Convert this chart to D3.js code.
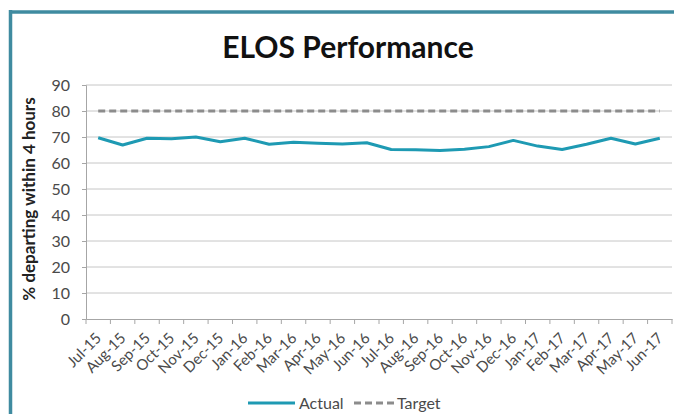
<!DOCTYPE html>
<html>
<head>
<meta charset="utf-8">
<script src="https://cdn.jsdelivr.net/npm/d3@7"></script>
<style>
  html, body { margin: 0; padding: 0; background: #ffffff; overflow: hidden; }
  svg { display: block; }
</style>
</head>
<body>
<svg id="chart" width="674" height="414"></svg>
<script>
// Monthly ELOS performance, Jul-15 to Jun-17
const months = ["Jul-15","Aug-15","Sep-15","Oct-15","Nov-15","Dec-15","Jan-16","Feb-16","Mar-16","Apr-16","May-16","Jun-16",
                "Jul-16","Aug-16","Sep-16","Oct-16","Nov-16","Dec-16","Jan-17","Feb-17","Mar-17","Apr-17","May-17","Jun-17"];
const actual = [69.7, 66.9, 69.5, 69.3, 70.0, 68.2, 69.5, 67.2, 68.0, 67.6, 67.3, 67.8,
                65.2, 65.1, 64.8, 65.3, 66.3, 68.7, 66.5, 65.2, 67.2, 69.5, 67.3, 69.5];
const target = months.map(() => 80);
const yTicks = [0, 10, 20, 30, 40, 50, 60, 70, 80, 90];

const font = "Lato, 'Open Sans', sans-serif";
const textGrey = "#4a4a4a";
const svg = d3.select("#chart");

// outer frame: top and left edges of the panel border
svg.append("line").attr("x1", 9).attr("x2", 674).attr("y1", 12).attr("y2", 12)
  .attr("stroke", "#3f8ba0").attr("stroke-width", 3.5);
svg.append("line").attr("x1", 10.5).attr("x2", 10.5).attr("y1", 10).attr("y2", 414)
  .attr("stroke", "#3f8ba0").attr("stroke-width", 3.5);

const x = d3.scaleBand().domain(months).range([86, 672]);
const y = d3.scaleLinear().domain([0, 90]).range([319, 85]);

// title
svg.append("text")
  .attr("x", 348).attr("y", 58)
  .attr("text-anchor", "middle")
  .attr("font-family", font).attr("font-weight", "bold")
  .attr("font-size", 30).attr("fill", "#111")
  .text("ELOS Performance");

// horizontal gridlines
svg.append("g").selectAll("line")
  .data(yTicks.filter(d => d > 0))
  .join("line")
  .attr("x1", 86).attr("x2", 672)
  .attr("y1", d => y(d)).attr("y2", d => y(d))
  .attr("stroke", "#c6c6c6").attr("stroke-width", 1);

// y axis
const yAxis = svg.append("g")
  .attr("transform", "translate(86,0)")
  .call(d3.axisLeft(y).tickValues(yTicks).tickSize(4).tickPadding(12));
yAxis.select(".domain").attr("stroke", "#a6a6a6");
yAxis.selectAll(".tick line").attr("stroke", "#a6a6a6");
yAxis.selectAll(".tick text")
  .attr("font-family", font).attr("font-size", 16).attr("fill", textGrey);

// x axis with ticks at category boundaries
const xAxis = svg.append("g")
  .attr("transform", "translate(0,319)")
  .call(d3.axisBottom(x).tickSize(0).tickPadding(0));
xAxis.select(".domain").attr("stroke", "#a6a6a6");
xAxis.selectAll(".tick text").remove();
xAxis.append("g").selectAll("line")
  .data(months.concat(["end"]))
  .join("line")
  .attr("x1", (d, i) => 86 + i * x.step())
  .attr("x2", (d, i) => 86 + i * x.step())
  .attr("y1", 0).attr("y2", 5)
  .attr("stroke", "#a6a6a6");

// rotated category labels
svg.append("g").selectAll("text")
  .data(months)
  .join("text")
  .attr("transform", d => `translate(${x(d) + x.bandwidth() / 2 + 4},${339}) rotate(-45)`)
  .attr("text-anchor", "end")
  .attr("font-family", font).attr("font-size", 15).attr("fill", textGrey)
  .text(d => d);

// y axis title
svg.append("text")
  .attr("transform", "translate(35,199) rotate(-90)")
  .attr("text-anchor", "middle")
  .attr("font-family", font).attr("font-weight", "bold")
  .attr("font-size", 17).attr("fill", "#222")
  .text("% departing within 4 hours");

const cx = d => x(d) + x.bandwidth() / 2;

// target line
svg.append("path")
  .datum(target)
  .attr("fill", "none")
  .attr("stroke", "#8c8c8c").attr("stroke-width", 3)
  .attr("stroke-dasharray", "7,4")
  .attr("d", d3.line().x((d, i) => cx(months[i])).y(d => y(d)));

// actual line
svg.append("path")
  .datum(actual)
  .attr("fill", "none")
  .attr("stroke", "#1e9ab3").attr("stroke-width", 3)
  .attr("stroke-linejoin", "round")
  .attr("d", d3.line().x((d, i) => cx(months[i])).y(d => y(d)));

// legend
const legend = svg.append("g").attr("font-family", font).attr("font-size", 16).attr("fill", textGrey);
legend.append("line").attr("x1", 248).attr("x2", 295).attr("y1", 403).attr("y2", 403)
  .attr("stroke", "#1e9ab3").attr("stroke-width", 3);
legend.append("text").attr("x", 299).attr("y", 409).text("Actual");
legend.append("line").attr("x1", 354).attr("x2", 394).attr("y1", 403).attr("y2", 403)
  .attr("stroke", "#8c8c8c").attr("stroke-width", 3).attr("stroke-dasharray", "7,4");
legend.append("text").attr("x", 397).attr("y", 409).text("Target");
</script>
</body>
</html>
